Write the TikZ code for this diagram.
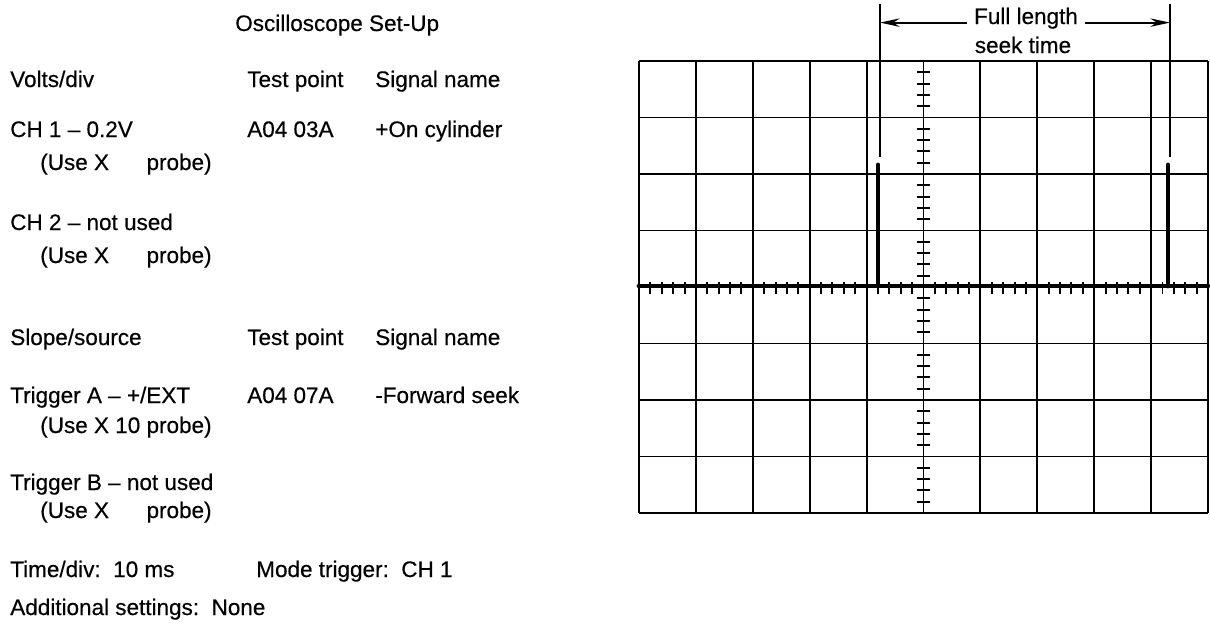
\documentclass[tikz,border=0pt]{standalone}
\usepackage{fontspec}
\setmainfont{Liberation Sans}[FakeBold=0.4]
\usetikzlibrary{arrows.meta}

\begin{document}
\begin{tikzpicture}[x=0.025cm, y=-0.025cm,
    font=\fontsize{16}{19}\selectfont,
    lbl/.style={anchor=base west, inner sep=0pt},
    gridline/.style={line width=1.4pt},
    trace/.style={line width=3.4pt, line cap=round},
    extline/.style={line width=1pt},
    dimarrow/.style={line width=1.3pt, -{Stealth[length=14pt, width=6pt]}},
  ]
    \useasboundingbox (0,0) rectangle (1210,641);

    % Oscilloscope set-up, left side
    \node[lbl] (title) at (235,31) {Oscilloscope Set-Up};
    \node[lbl] (volts) at (10,87) {Volts/div};
    \node[lbl] (tpa) at (247,87) {Test point};
    \node[lbl] (sna) at (375,87) {Signal name};
    \node[lbl] (chone) at (10,137) {CH 1 \textendash\ 0.2V};
    \node[lbl] (tpone) at (247,137) {A04 03A};
    \node[lbl] (snone) at (375,137) {+On cylinder};
    \node[lbl] (probeone) at (40,170) {(Use X \phantom{10} probe)};
    \node[lbl] (chtwo) at (10,230) {CH 2 \textendash\ not used};
    \node[lbl] (probetwo) at (40,263) {(Use X \phantom{10} probe)};

    \node[lbl] (slope) at (10,345) {Slope/source};
    \node[lbl] (tpb) at (247,345) {Test point};
    \node[lbl] (snb) at (375,345) {Signal name};
    \node[lbl] (trga) at (10,403) {Trigger A \textendash\ +/EXT};
    \node[lbl] (tptrg) at (247,403) {A04 07A};
    \node[lbl] (sntrg) at (375,403) {-Forward seek};
    \node[lbl] (probea) at (40,433) {(Use X 10 probe)};
    \node[lbl] (trgb) at (10,490) {Trigger B \textendash\ not used};
    \node[lbl] (probeb) at (40,518) {(Use X \phantom{10} probe)};

    \node[lbl] (timediv) at (10,577) {Time/div:\ \ 10 ms};
    \node[lbl] (mode) at (256,577) {Mode trigger:\ \ CH 1};
    \node[lbl] (extra) at (10,615) {Additional settings:\ \ None};

    % screen
    \foreach \i in {0,...,10}
      \draw[gridline] (639+56.9*\i,61) -- (639+56.9*\i,513);
    \foreach \j in {0,...,8}
      \draw[gridline] (639,61+56.5*\j) -- (1208,61+56.5*\j);
    \foreach \k in {1,...,39}
      \draw[gridline] (917,61+11.3*\k) -- (930,61+11.3*\k);
    \foreach \k in {1,...,49}
      \draw[gridline] (639+11.38*\k,282) -- (639+11.38*\k,294);

    % trace
    \draw[trace] (639,286) -- (1208,286);
    \draw[trace] (878,286) -- (878,165);
    \draw[trace] (1168,286) -- (1168,165);

    % seek time
    \coordinate (lext) at (880,4);
    \coordinate (rext) at (1170,4);
    \draw[extline] (lext) -- (880,157);
    \draw[extline] (rext) -- (1170,157);
    \node[anchor=base, inner sep=5pt] (full) at (1026,24) {Full length};
    \node[anchor=base, inner sep=2pt] (seek) at (1023,53) {seek time};
    \draw[dimarrow] ([yshift=1pt]full.base west) -- ([yshift=1pt]full.base west -| lext);
    \draw[dimarrow] ([yshift=1pt]full.base east) -- ([yshift=1pt]full.base east -| rext);
  \end{tikzpicture}
\end{document}
